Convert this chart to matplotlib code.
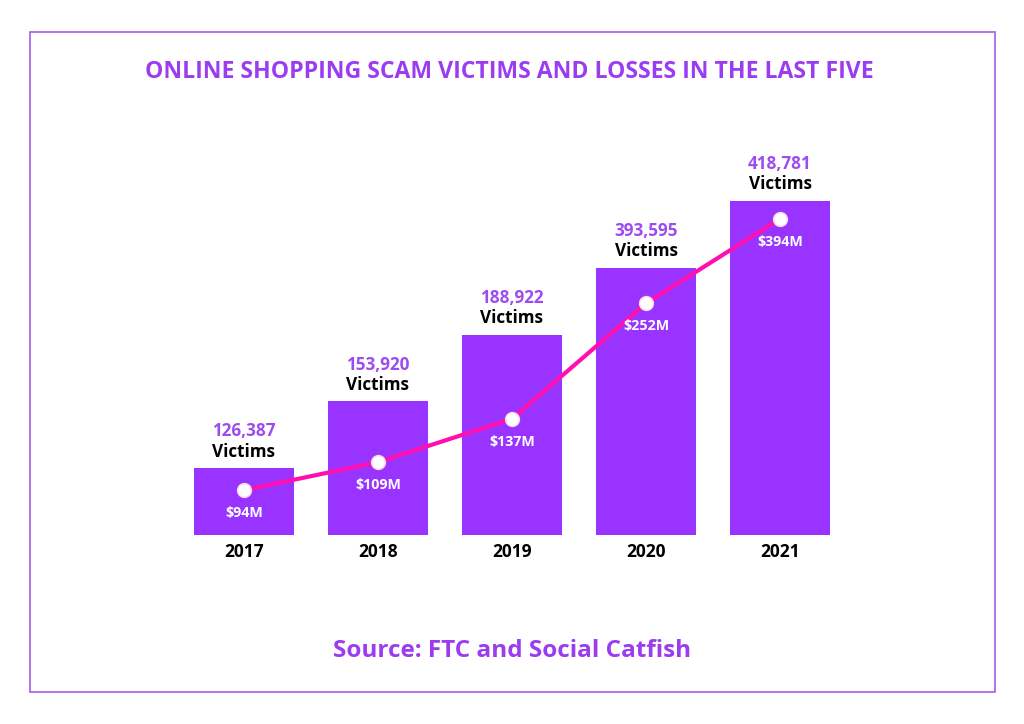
import matplotlib
matplotlib.use("Agg")
import matplotlib.pyplot as plt
import numpy as np
from matplotlib.patches import Rectangle

years = ["2017", "2018", "2019", "2020", "2021"]
victims = [126387, 153920, 188922, 393595, 418781]
losses = [94, 109, 137, 252, 394]  # $ millions

plt.rcParams["font.family"] = ["Open Sans", "DejaVu Sans"]

purple = "#9933ff"
text_purple = "#9d4cf2"
magenta = "#ff0fb0"

# bars in the original are stepped by rank, not to scale
levels = np.argsort(np.argsort(victims)) + 1
x = np.arange(len(years))

fig = plt.figure(figsize=(10.24, 7.24), dpi=100)
fig.patches.append(Rectangle((30 / 1024, 1 - 692 / 724), 965 / 1024, 660 / 724,
                             transform=fig.transFigure, fill=False,
                             edgecolor="#a45ee0", linewidth=1.2))

ax = fig.add_axes([163.6 / 1024, 1 - 535 / 724, 696.8 / 1024, 395 / 724])
ax.bar(x, levels, width=0.75, color=purple, zorder=1)
ax.set_xlim(-0.6, 4.6)
ax.set_ylim(0, 395 / 66.8)
ax.axis("off")

for xi, lv, v, yr in zip(x, levels, victims, years):
    ax.annotate("Victims", (xi, lv), xytext=(0, 12), textcoords="offset points",
                ha="center", va="center", fontsize=12.3, fontweight="bold", color="black")
    ax.annotate(f"{v:,}", (xi, lv), xytext=(0, 26.5), textcoords="offset points",
                ha="center", va="center", fontsize=12.3, fontweight="bold", color=text_purple)
    ax.annotate(yr, (xi, 0), xytext=(0, -12.5), textcoords="offset points",
                ha="center", va="center", fontsize=12.5, fontweight="bold", color="black")

# loss line sits on a log scale in the original
ax2 = ax.twinx()
ax2.set_yscale("log")
ax2.set_ylim(74.2, 597)
ax2.axis("off")
ax2.plot(x, losses, color=magenta, linewidth=3, zorder=2, solid_capstyle="round")
ax2.plot(x, losses, linestyle="none", marker="o", markersize=10,
         markerfacecolor="white", markeredgecolor="#ffd6ef", markeredgewidth=1, zorder=3)
for xi, l in zip(x, losses):
    ax2.annotate(f"${l}M", (xi, l), xytext=(0, -16.5), textcoords="offset points",
                 ha="center", va="center", fontsize=10.3, fontweight="bold", color="white")

fig.text(0.4976, 1 - 72 / 724, "ONLINE SHOPPING SCAM VICTIMS AND LOSSES IN THE LAST FIVE",
         ha="center", va="center", fontsize=16.6, fontweight="bold", color="#9b3cf0")
fig.text(0.5, 1 - 651 / 724, "Source: FTC and Social Catfish",
         ha="center", va="center", fontsize=17.5, fontweight="bold", color="#9b3cf0")

fig.savefig("out.png", dpi=100)
